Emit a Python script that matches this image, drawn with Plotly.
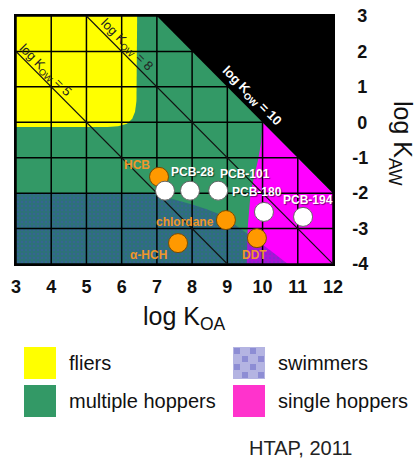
import plotly.graph_objects as go

# ---------------- data ----------------
x_ticks = [3, 4, 5, 6, 7, 8, 9, 10, 11, 12]
x_tick_text = ["3", "4", "5", "6", "7", "8", "9", "10", "11", "12"]
y_ticks = [-4, -3, -2, -1, 0, 1, 2, 3]
y_tick_text = ["-4", "-3", "-2", "-1", "\u20080", "\u20081", "\u20082", "\u20083"]

kow_lines = [5, 8]          # log Kow isolines drawn as thin lines
kow_boundary = 10           # log Kow = 10 (edge of black region)

# region outlines (log KOA, log KAW)
fliers_x = [3, 6.44, 6.42, 6.38, 6.3, 6.15, 5.9, 5.6, 3]
fliers_y = [3, 3, 0.6, 0.3, 0.1, -0.04, -0.11, -0.13, -0.13]

single_x = [10.0, 12, 12, 9.55, 9.58, 9.62, 9.66, 9.76, 9.87, 9.96]
single_y = [0.0, -2, -4, -4, -2.96, -2.48, -2.0, -1.54, -1.07, -0.58]

swim_x = [3, 6.8, 7.1, 7.5, 8.0, 8.4, 8.8, 9.2, 9.56, 10.0, 10.4, 10.72, 3]
swim_y = [-2, -2, -2.07, -2.18, -2.32, -2.45, -2.6, -2.88, -3.13, -3.45, -3.75, -4, -4]

orange_names = ["HCB", "chlordane", "\u03b1-HCH", "DDT"]
orange_koa = [7.06, 8.96, 7.6, 9.84]
orange_kaw = [-1.54, -2.76, -3.41, -3.27]

pcb_names = ["", "PCB-28", "PCB-101", "PCB-180", "PCB-194"]
pcb_koa = [7.23, 7.94, 8.74, 10.04, 11.15]
pcb_kaw = [-1.93, -1.93, -1.93, -2.53, -2.67]

legend_labels = ["fliers", "multiple hoppers", "swimmers", "single hoppers"]

# ---------------- styling ----------------
YELLOW = "#FFFF00"
GREEN = "#339966"
MAGENTA = "#FF00FF"
PINK_LEG = "#FF33CC"
ORANGE = "#FF9900"
LABEL_OR = "#F0962A"
FONT = "Liberation Sans, Arial, sans-serif"

W, H = 417, 459
PLOT_L, PLOT_T, PLOT_R, PLOT_B = 16, 16, 333, 264   # plot area in page pixels
PW, PH = PLOT_R - PLOT_L, PLOT_B - PLOT_T
ML, MT = PLOT_L, PLOT_T
MR, MB = W - ML - PW, H - MT - PH

xmin, xmax = x_ticks[0], x_ticks[-1]
ymin, ymax = y_ticks[0], y_ticks[-1]


def px(xp):
    return (xp - PLOT_L) / PW


def py(yp):
    return (PLOT_B - yp) / PH


fig = go.Figure()

# fliers
fig.add_trace(go.Scatter(x=fliers_x, y=fliers_y, fill="toself", fillcolor=YELLOW,
                         mode="lines", line=dict(width=0), hoverinfo="skip", showlegend=False))
# single hoppers
fig.add_trace(go.Scatter(x=single_x, y=single_y, fill="toself", fillcolor=MAGENTA,
                         mode="lines", line=dict(width=0), hoverinfo="skip", showlegend=False))
# black region above log Kow = 10
black_x = [kow_boundary - ymax, xmax, xmax]
black_y = [ymax, ymax, kow_boundary - xmax]
fig.add_trace(go.Scatter(x=black_x, y=black_y, fill="toself", fillcolor="black",
                         mode="lines", line=dict(width=1, color="black"), hoverinfo="skip",
                         showlegend=False))
# swimmers (pattern)
fig.add_trace(go.Scatter(x=swim_x, y=swim_y, fill="toself", fillcolor="rgba(35,50,150,0.38)",
                         fillpattern=dict(shape=".", fillmode="overlay",
                                          fgcolor="rgba(75,75,200,0.65)", size=4, solidity=0.3),
                         mode="lines", line=dict(width=0), hoverinfo="skip", showlegend=False))

# grid lines
gx, gy = [], []
for t in x_ticks:
    gx += [t, t, None]
    gy += [ymin, ymax, None]
for t in y_ticks:
    gx += [xmin, xmax, None]
    gy += [t, t, None]
fig.add_trace(go.Scatter(x=gx, y=gy, mode="lines", line=dict(color="black", width=1.5),
                         hoverinfo="skip", showlegend=False))

# log Kow isolines
lx, ly = [], []
for k in kow_lines:
    x0 = max(xmin, k - ymax)
    x1 = min(xmax, k - ymin)
    lx += [x0, x1, None]
    ly += [k - x0, k - x1, None]
fig.add_trace(go.Scatter(x=lx, y=ly, mode="lines", line=dict(color="#111", width=1.2),
                         hoverinfo="skip", showlegend=False))

# compounds
fig.add_trace(go.Scatter(x=orange_koa, y=orange_kaw, mode="markers",
                         marker=dict(size=19, color=ORANGE, line=dict(color="#7a4a00", width=1)),
                         showlegend=False, hoverinfo="skip"))
fig.add_trace(go.Scatter(x=pcb_koa, y=pcb_kaw, mode="markers",
                         marker=dict(size=19, color="white", line=dict(color="#666", width=1)),
                         showlegend=False, hoverinfo="skip"))

ann = []
orange_shift = [(-22, 12), (-41, -2), (-30, -12), (-2, -17)]
for n, xx, yy, (dx, dy) in zip(orange_names, orange_koa, orange_kaw, orange_shift):
    ann.append(dict(x=xx, y=yy, text=n, showarrow=False, xshift=dx, yshift=dy,
                    font=dict(family=FONT, size=12, color=LABEL_OR, weight="bold")))
pcb_shift = [(0, 0), (2, 19), (27, 17), (-7, 20), (5, 17)]
for n, xx, yy, (dx, dy) in zip(pcb_names, pcb_koa, pcb_kaw, pcb_shift):
    if n:
        ann.append(dict(x=xx, y=yy, text=n, showarrow=False, xshift=dx, yshift=dy,
                        font=dict(family=FONT, size=12, color="white", weight="bold",
                                  shadow="1px 1px 1px rgba(0,0,0,0.5)")))

# isoline labels
ann.append(dict(x=3.82, y=1.45, text="log K<sub>OW</sub> = 5", showarrow=False, textangle=45,
                font=dict(family=FONT, size=13, color="#222")))
ann.append(dict(x=6.15, y=2.18, text="log K<sub>OW</sub> = 8", showarrow=False, textangle=45,
                font=dict(family=FONT, size=13, color="#222")))
ann.append(dict(x=9.7, y=0.74, text="log K<sub>OW</sub> = 10", showarrow=False, textangle=45,
                font=dict(family=FONT, size=13, color="white", weight="bold")))

# axis titles
ann.append(dict(xref="paper", yref="paper", x=px(184), y=py(318), text="log K<sub>OA</sub>",
                showarrow=False, xanchor="center", yanchor="middle",
                font=dict(family=FONT, size=25, color="#111")))
ann.append(dict(xref="paper", yref="paper", x=px(401), y=py(143), text="log K<sub>AW</sub>",
                showarrow=False, textangle=90, xanchor="center", yanchor="middle",
                font=dict(family=FONT, size=25, color="#111")))

# legend (manual)
shapes = []
sw_pos = [(24, 347), (24, 385), (233, 347), (233, 385)]
sw_col = [YELLOW, GREEN, "#B4B4E2", PINK_LEG]
txt_x = [67, 67, 276, 276]
for lab, (sx, sy), c, tx in zip(legend_labels, sw_pos, sw_col, txt_x):
    shapes.append(dict(type="rect", xref="paper", yref="paper", x0=px(sx), x1=px(sx + 32),
                       y0=py(sy + 32), y1=py(sy), fillcolor=c, line=dict(width=0), layer="above"))
    ann.append(dict(xref="paper", yref="paper", x=px(tx), y=py(sy + 16), text=lab,
                    showarrow=False, xanchor="left", yanchor="middle",
                    font=dict(family=FONT, size=20, color="#111")))
# checker texture on the swimmers swatch
for i in range(4):
    for j in range(4):
        if (i + j) % 2 == 0:
            shapes.append(dict(type="rect", xref="paper", yref="paper",
                               x0=px(233 + i * 8 + 1), x1=px(233 + i * 8 + 7),
                               y0=py(347 + j * 8 + 7), y1=py(347 + j * 8 + 1),
                               fillcolor="rgba(110,110,200,0.55)", line=dict(width=0),
                               layer="above"))

ann.append(dict(xref="paper", yref="paper", x=px(247), y=py(448), text="HTAP, 2011",
                showarrow=False, xanchor="left", yanchor="middle",
                font=dict(family=FONT, size=20, color="#222")))

fig.update_layout(
    width=W, height=H, margin=dict(l=ML, r=MR, t=MT, b=MB, autoexpand=False),
    paper_bgcolor="white", plot_bgcolor=GREEN,
    annotations=ann, shapes=shapes, showlegend=False,
    xaxis=dict(range=[xmin, xmax], tickvals=x_ticks, ticktext=x_tick_text, showgrid=False,
               zeroline=False, showline=True, mirror=True, linecolor="black", linewidth=1.5,
               ticks="", ticklabelstandoff=6, automargin=False, ticklabeloverflow="allow",
               tickfont=dict(family=FONT, size=18, color="#111", weight="bold")),
    yaxis=dict(range=[ymin, ymax], tickvals=y_ticks, ticktext=y_tick_text, side="right",
               showgrid=False, zeroline=False, showline=True, mirror=True, linecolor="black",
               linewidth=1.5, ticks="", ticklabelstandoff=14, automargin=False,
               ticklabeloverflow="allow",
               tickfont=dict(family=FONT, size=18, color="#111", weight="bold")),
)

fig.write_html("out.html", config={"displayModeBar": False},
               post_script="document.body.style.margin='0';document.body.style.overflow='hidden';")
